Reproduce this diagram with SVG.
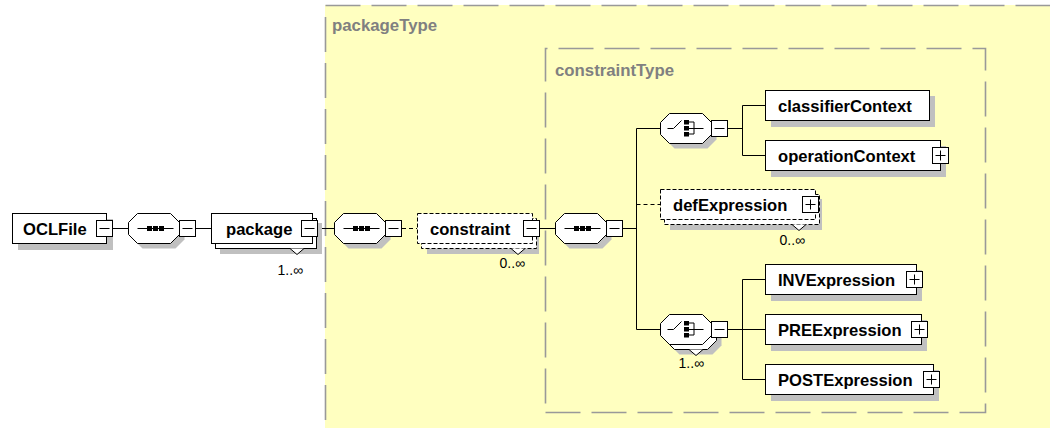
<svg xmlns="http://www.w3.org/2000/svg" xmlns:xlink="http://www.w3.org/1999/xlink" width="1050" height="428" viewBox="0 0 1050 428">
  <style>
    .box{fill:#fff;stroke:#000;stroke-width:1}
    .dbox{fill:#fff;stroke:#000;stroke-width:1;stroke-dasharray:4 2}
    .shadow{fill:#c0c0c0}
    .wire{fill:none;stroke:#000;stroke-width:1}
    .dwire{fill:none;stroke:#000;stroke-width:1;stroke-dasharray:4 3}
    .frame{fill:none;stroke:#999;stroke-width:1.6;stroke-dasharray:35 11}
    .name{font-family:"Liberation Sans",Arial,sans-serif;font-weight:bold;font-size:16.6px;fill:#000}
    .type{font-family:"Liberation Sans",Arial,sans-serif;font-weight:bold;font-size:16.8px;fill:#808080}
    .mult{font-family:"Liberation Sans",Arial,sans-serif;font-size:14px;fill:#000;text-anchor:end}
    .chev{fill:#fff;stroke:#000;stroke-width:1}
  </style>
  <defs>
    <path id="oct" d="M9,0H42L51,9V21L42,30H9L0,21V9Z"/>
    <g id="minus">
      <rect x="0.5" y="0.5" width="16" height="16" fill="#fff" stroke="#000"/>
      <path d="M3.5,8.5H13.5" stroke="#000"/>
    </g>
    <g id="plus">
      <rect x="0.5" y="0.5" width="16" height="16" fill="#fff" stroke="#000"/>
      <path d="M3.5,8.5H13.5M8.5,3.5V13.5" stroke="#000"/>
    </g>
    <!-- sequence compositor: octagon with a row of three dots -->
    <g id="seq">
      <use xlink:href="#oct" x="5" y="5" class="shadow"/>
      <use xlink:href="#oct" class="box"/>
      <path d="M9,15H45" stroke="#000"/>
      <rect x="18.5" y="12.5" width="5" height="5" fill="#000"/>
      <rect x="24.5" y="12.5" width="5" height="5" fill="#000"/>
      <rect x="30.5" y="12.5" width="5" height="5" fill="#000"/>
    </g>
    <!-- choice compositor icon -->
    <g id="choiceIcon" fill="none" stroke="#000">
      <path d="M7,15H13L21,7"/>
      <rect x="23.5" y="6.5" width="5" height="4.5" fill="#000" stroke="none"/>
      <rect x="23.5" y="12.5" width="5" height="4.5" fill="#000" stroke="none"/>
      <rect x="23.5" y="18.5" width="5" height="4.5" fill="#000" stroke="none"/>
      <path d="M28.5,8.5H33.5V20.5H28.5M28.5,15H43"/>
    </g>
  </defs>

  <!-- packageType frame -->
  <rect x="325" y="5" width="730" height="430" fill="#ffffc0"/>
  <path class="frame" d="M325.5,5.5H1060"/>
  <path class="frame" d="M325.5,17V440"/>
  <text class="type" x="332" y="31">packageType</text>

  <!-- constraintType frame -->
  <path class="frame" d="M545.5,412.5H985.5V48.5H545.5Z"/>
  <text class="type" x="555" y="76">constraintType</text>

  <!-- connectors -->
  <g id="connectors">
    <path class="wire" d="M113,228.5H128"/>
    <path class="wire" d="M196,228.5H211"/>
    <path class="wire" d="M318,228.5H334"/>
    <path class="dwire" d="M402,228.5H417"/>
    <path class="wire" d="M540,228.5H555"/>
    <path class="wire" d="M623,228.5H636.5M636.5,128.5V329.5"/>
    <path class="wire" d="M636.5,128.5H660"/>
    <path class="dwire" d="M636.5,204.5H660"/>
    <path class="wire" d="M636.5,329.5H660"/>
    <path class="wire" d="M728,128.5H742.5M742.5,105.5V155.5M742.5,105.5H765M742.5,155.5H765"/>
    <path class="wire" d="M728,329.5H742.5M742.5,279.5V379.5M742.5,279.5H765M742.5,329.5H765M742.5,379.5H765"/>
  </g>

  <!-- OCLFile -->
  <g id="OCLFile">
    <rect class="shadow" x="18" y="219" width="95" height="31"/>
    <rect class="box" x="12.5" y="213.5" width="94" height="30"/>
    <text class="name" x="23" y="234.5">OCLFile</text>
    <use xlink:href="#minus" x="96" y="220"/>
  </g>

  <!-- sequence under OCLFile -->
  <g id="seq1">
    <use xlink:href="#seq" x="128.5" y="213.5"/>
    <use xlink:href="#minus" x="179" y="220"/>
  </g>

  <!-- package (1..unbounded) -->
  <g id="package">
    <rect class="shadow" x="220" y="223" width="102" height="31"/>
    <rect class="box" x="215.5" y="218.5" width="101" height="30"/>
    <path class="chev" d="M290,248.5L297,254.5L304,248.5"/>
    <rect class="box" x="211.5" y="213.5" width="101" height="30"/>
    <text class="name" x="226" y="234.5">package</text>
    <use xlink:href="#minus" x="301" y="220"/>
    <text class="mult" x="303" y="275">1..∞</text>
  </g>

  <!-- sequence in packageType -->
  <g id="seq2">
    <use xlink:href="#seq" x="334.5" y="213.5"/>
    <use xlink:href="#minus" x="385" y="220"/>
  </g>

  <!-- constraint (optional, unbounded) -->
  <g id="constraint">
    <rect class="shadow" x="427" y="223" width="112" height="31"/>
    <rect class="dbox" x="421.5" y="218.5" width="115" height="30"/>
    <path class="chev" d="M511,248.5L518,254.5L525,248.5"/>
    <rect class="dbox" x="417.5" y="213.5" width="115" height="30"/>
    <text class="name" x="430" y="234.5">constraint</text>
    <use xlink:href="#minus" x="523" y="220"/>
    <text class="mult" x="525" y="268">0..∞</text>
  </g>

  <!-- sequence in constraintType -->
  <g id="seq3">
    <use xlink:href="#seq" x="555.5" y="213.5"/>
    <use xlink:href="#minus" x="606" y="220"/>
  </g>

  <!-- choice: context -->
  <g id="choice1">
    <use xlink:href="#oct" x="665.5" y="118.5" class="shadow"/>
    <use xlink:href="#oct" x="660.5" y="113.5" class="box"/>
    <use xlink:href="#choiceIcon" x="660.5" y="113.5"/>
    <use xlink:href="#minus" x="711" y="120"/>
  </g>

  <g id="classifierContext">
    <rect class="shadow" x="771" y="96" width="164" height="31"/>
    <rect class="box" x="765.5" y="90.5" width="164" height="30"/>
    <text class="name" x="778" y="111.5">classifierContext</text>
  </g>

  <g id="operationContext">
    <rect class="shadow" x="771" y="146" width="175" height="31"/>
    <rect class="box" x="765.5" y="140.5" width="175" height="30"/>
    <text class="name" x="778" y="161.5">operationContext</text>
    <use xlink:href="#plus" x="932" y="147"/>
  </g>

  <!-- defExpression (optional, unbounded) -->
  <g id="defExpression">
    <rect class="shadow" x="670" y="199" width="152" height="31"/>
    <rect class="dbox" x="664.5" y="194.5" width="155" height="30"/>
    <path class="chev" d="M792,224.5L799,230.5L806,224.5"/>
    <rect class="dbox" x="660.5" y="189.5" width="155" height="30"/>
    <text class="name" x="673" y="210.5">defExpression</text>
    <use xlink:href="#plus" x="802" y="196"/>
    <text class="mult" x="805" y="245">0..∞</text>
  </g>

  <!-- choice: expressions (1..unbounded) -->
  <g id="choice2">
    <use xlink:href="#oct" x="670.5" y="324.5" class="shadow"/>
    <use xlink:href="#oct" x="665.5" y="319.5" class="box"/>
    <path class="chev" d="M689,349.5L696,355.5L703,349.5"/>
    <use xlink:href="#oct" x="660.5" y="314.5" class="box"/>
    <use xlink:href="#choiceIcon" x="660.5" y="314.5"/>
    <use xlink:href="#minus" x="711" y="321"/>
    <text class="mult" x="704" y="368">1..∞</text>
  </g>

  <g id="INVExpression">
    <rect class="shadow" x="771" y="270" width="151" height="31"/>
    <rect class="box" x="765.5" y="264.5" width="151" height="30"/>
    <text class="name" x="778" y="285.5">INVExpression</text>
    <use xlink:href="#plus" x="906" y="271"/>
  </g>

  <g id="PREExpression">
    <rect class="shadow" x="771" y="320" width="156" height="31"/>
    <rect class="box" x="765.5" y="314.5" width="156" height="30"/>
    <text class="name" x="778" y="335.5">PREExpression</text>
    <use xlink:href="#plus" x="911" y="321"/>
  </g>

  <g id="POSTExpression">
    <rect class="shadow" x="771" y="370" width="168" height="31"/>
    <rect class="box" x="765.5" y="364.5" width="168" height="30"/>
    <text class="name" x="778" y="385.5">POSTExpression</text>
    <use xlink:href="#plus" x="923" y="371"/>
  </g>
</svg>
